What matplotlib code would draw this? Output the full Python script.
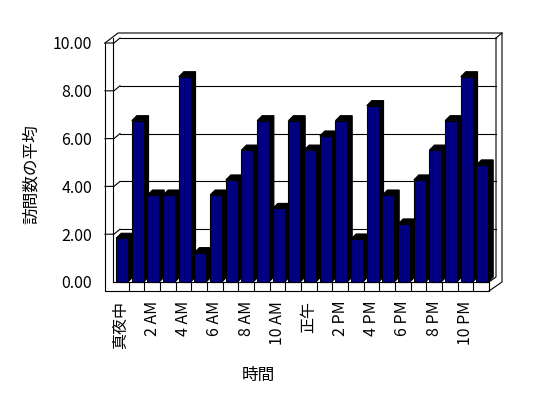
import matplotlib
matplotlib.use('Agg')
import matplotlib.pyplot as plt
from matplotlib.patches import Polygon, Rectangle

plt.rcParams['font.family'] = ['Noto Sans CJK JP', 'DejaVu Sans']

# average visits per hour
visits = [1.83, 6.75, 3.64, 3.64, 8.59, 1.23, 3.64, 4.27, 5.52, 6.75, 3.08, 6.75,
          5.52, 6.11, 6.75, 1.80, 7.38, 3.64, 2.43, 4.27, 5.52, 6.75, 8.59, 4.90]
hour_labels = ['真夜中', '2 AM', '4 AM', '6 AM', '8 AM', '10 AM',
               '正午', '2 PM', '4 PM', '6 PM', '8 PM', '10 PM']
yticks = [0, 2, 4, 6, 8, 10]

W, H = 548, 398
fig = plt.figure(figsize=(W/100, H/100), dpi=100)
fig.patch.set_facecolor('white')

# front plane of the 3-D box (pixels)
L, R, T, B = 113, 489, 43, 282
ax = fig.add_axes([L/W, 1 - B/H, (R - L)/W, (B - T)/H])
n = len(visits)
ymax = yticks[-1]
ax.set_xlim(-0.5, n - 0.5)
ax.set_ylim(0, ymax)
ax.set_facecolor('none')
for s in ax.spines.values():
    s.set_visible(False)

kx = n / (R - L)      # data units per pixel
ky = ymax / (B - T)
LW = 0.8

def pt(x, y, dx=0, dy=0):
    # data point pushed by a pixel offset (dx right, dy up)
    return (x + dx*kx, y + dy*ky)

def line(pts, z=1):
    xs, ys = zip(*pts)
    ax.plot(xs, ys, color='black', lw=LW, clip_on=False, zorder=z,
            solid_capstyle='projecting')

x0, x1 = -0.5, n - 0.5

# back wall and its gridlines
for v in yticks[1:]:
    line([pt(x0, v, 7, 5), pt(x1, v, 7, 5)])
    line([pt(x0, v, -8, 0), pt(x0, v, 1, 0), pt(x0, v, 7, 5)])
line([pt(x0, ymax, -8, 0), pt(x0, ymax, 5, 10), pt(x1, ymax, 13, 10),
      pt(x1, 0, 13, 0), pt(x1, 0, 0, -9)])
line([pt(x1, ymax, 7, 5), pt(x1, ymax, 13, 10)])
line([pt(x1, ymax, 7, 5), pt(x1, 0, 7, 5), pt(x1, 0)])
line([pt(x0, ymax, 0, 5), pt(x0, 0)])

# floor slab and left wall edge
line([pt(x0, ymax, -8, 0), pt(x0, 0, -8, -9), pt(x1, 0, 0, -9), pt(x1, 0), pt(x0, 0)])
for k in range(1, n):
    line([pt(k - 0.5, 0), pt(k - 0.5, 0, 0, -9)])

# bars: dark top/side, navy front
for i, v in enumerate(visits):
    xa, xb = i - 0.3, i + 0.45
    side = [pt(xa, v), pt(xa, v, 5, 5), pt(xb, v, 5, 5), pt(xb, 0, 5, 5),
            pt(xb, 0), pt(xb, v)]
    ax.add_patch(Polygon(side, closed=True, fc='black', ec='black', lw=LW,
                         zorder=3, clip_on=False))
    ax.add_patch(Rectangle((xa, 0), xb - xa, v, fc='#000080', ec='black', lw=LW,
                           zorder=3, clip_on=False))

ax.set_yticks(yticks)
ax.set_yticklabels(['%.2f' % v for v in yticks], fontsize=11.5)
ax.tick_params(axis='y', length=0, pad=15)
ax.set_xticks(range(0, n, 2))
ax.set_xticklabels(hour_labels, rotation=90, fontsize=11.5)
ax.tick_params(axis='x', length=0, pad=13.5)

fig.text(31/W, 1 - 174/H, '訪問数の平均', rotation=90, ha='center', va='center', fontsize=12)
fig.text(258/W, 1 - 375/H, '時間', ha='center', va='center', fontsize=12)

fig.savefig('out.png', dpi=100, facecolor='white')
